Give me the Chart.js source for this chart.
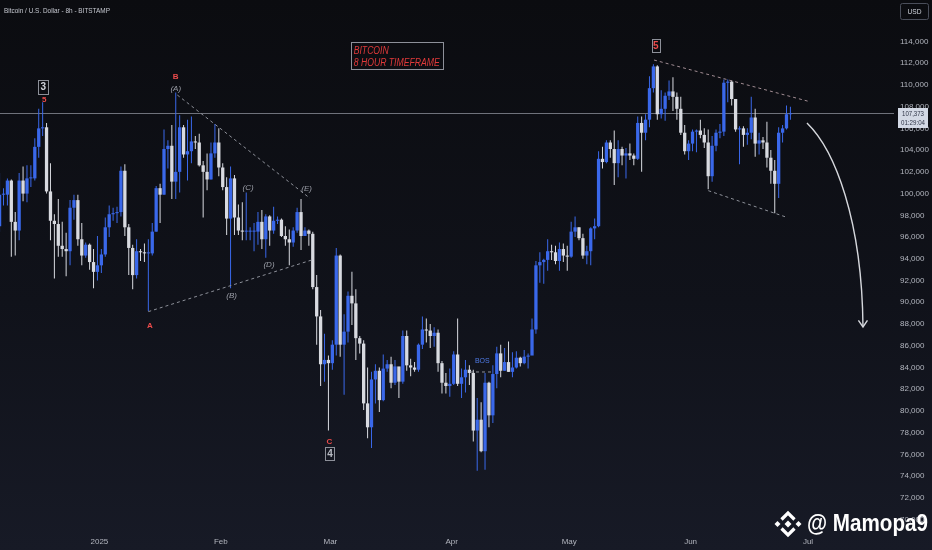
<!DOCTYPE html>
<html>
<head>
<meta charset="utf-8">
<script src="https://cdn.jsdelivr.net/npm/chart.js@4.4.1/dist/chart.umd.min.js"></script>
<style>
html, body { margin: 0; padding: 0; background: #0c0d12; overflow: hidden; }
canvas { display: block; }
</style>
</head>
<body>
<canvas id="btc" width="932" height="550"></canvas>
<script>
// BTC/USD daily candles, Dec 6 2024 .. Jun 26 2025, prices in thousands of USD
const startOffset = -26; // Dec 6 2024, in days from Jan 1 2025
const firstOpen = 97.0;

const closes = [
  // Dec
  99.9, 99.9, 101.2, 97.4, 96.6, 101.2, 100.0, 101.4, 101.4, 104.3, 106.0, 106.1, 100.2, 97.5, 97.2, 95.2, 94.9, 94.7, 98.7, 99.4, 95.8, 94.3, 95.3, 93.7, 92.8, 93.4,
  // Jan
  94.4, 96.9, 98.1, 98.2, 98.3, 102.1, 96.9, 95.0, 92.5, 94.7, 94.6, 94.5, 94.5, 96.5, 100.5, 99.9, 104.1, 104.4, 101.1, 102.0, 106.1, 103.6, 103.9, 104.8, 104.7, 102.6, 102.0, 101.3, 103.7, 104.7, 102.4,
  // Feb
  100.6, 97.7, 101.4, 97.8, 96.6, 96.5, 96.5, 96.5, 96.5, 97.4, 95.8, 97.9, 96.6, 97.5, 97.6, 96.1, 95.8, 95.5, 96.6, 98.3, 96.1, 96.6, 96.3, 91.4, 88.7, 84.3, 84.7, 84.4,
  // Mar
  86.1, 94.3, 86.1, 87.3, 90.6, 89.9, 86.7, 86.2, 80.7, 78.5, 82.9, 83.7, 81.0, 83.9, 84.3, 82.6, 84.1, 82.7, 86.9, 84.2, 84.0, 83.8, 86.1, 87.5, 87.4, 86.9, 87.2, 84.4, 82.6, 82.3, 82.5,
  // Apr
  85.2, 82.5, 83.1, 83.8, 83.5, 78.2, 79.2, 76.3, 82.6, 79.6, 83.4, 85.3, 83.7, 84.5, 83.6, 84.0, 84.9, 84.4, 85.0, 85.1, 87.5, 93.4, 93.7, 93.9, 94.7, 94.6, 93.8, 94.9, 94.3, 94.2,
  // May
  96.5, 96.9, 95.9, 94.3, 94.7, 96.8, 97.0, 103.2, 102.9, 104.7, 104.1, 102.8, 104.1, 103.5, 103.7, 103.5, 103.2, 106.5, 105.6, 106.8, 109.7, 111.7, 107.3, 107.8, 109.0, 109.4, 108.9, 107.8, 105.6, 103.9, 104.6,
  // Jun
  105.7, 105.8, 105.4, 104.7, 101.6, 104.4, 105.6, 105.7, 110.2, 110.3, 108.7, 105.9, 106.0, 105.4, 105.6, 107.0, 104.6, 104.9, 104.7, 103.3, 102.1, 100.9, 105.6, 106.0, 107.3, 107.373
];

const highs = [
  101.9, 100.5, 101.4, 101.3, 98.3, 101.9, 102.5, 102.6, 102.6, 105.1, 107.8, 108.4, 106.5, 102.8, 98.1, 99.5, 97.4, 96.4, 99.4, 99.9, 99.9, 97.3, 95.5, 95.4, 94.9, 96.1,
  94.9, 97.8, 98.9, 98.7, 98.8, 102.5, 102.7, 97.2, 95.3, 95.8, 94.9, 95.4, 95.8, 97.3, 100.7, 100.9, 105.9, 104.9, 106.3, 109.3, 107.2, 106.3, 106.8, 107.1, 105.3, 105.5, 103.0, 103.7, 104.7, 106.4, 106.0,
  102.8, 101.5, 102.5, 101.7, 99.0, 99.2, 100.1, 96.9, 97.3, 98.3, 98.5, 98.1, 98.0, 98.8, 97.9, 97.7, 97.0, 96.7, 96.9, 98.7, 99.5, 96.9, 96.7, 96.5, 92.5, 89.3, 87.1, 85.1,
  86.5, 95.0, 94.4, 88.9, 91.0, 92.8, 91.2, 86.9, 86.5, 84.0, 83.6, 84.3, 84.0, 85.2, 84.7, 85.0, 84.7, 84.0, 87.4, 87.4, 84.8, 84.5, 86.2, 88.7, 88.5, 88.0, 87.7, 87.5, 84.6, 83.5, 83.9,
  85.5, 88.5, 83.9, 84.7, 84.2, 83.8, 81.2, 80.8, 83.5, 82.7, 84.2, 85.9, 86.1, 85.8, 86.4, 85.4, 85.5, 85.0, 85.6, 85.3, 88.5, 93.8, 94.6, 94.0, 95.8, 95.3, 95.2, 95.5, 95.4, 95.2,
  97.4, 97.9, 96.9, 96.3, 95.2, 96.9, 97.7, 103.9, 104.3, 104.9, 104.9, 105.8, 104.9, 104.3, 104.2, 104.6, 103.7, 107.1, 107.1, 107.3, 110.8, 111.9, 111.8, 109.5, 109.3, 110.4, 110.7, 109.3, 108.9, 106.3, 104.9,
  105.9, 105.9, 106.8, 106.0, 105.9, 105.3, 105.9, 106.4, 110.5, 110.5, 110.4, 108.7, 106.2, 106.2, 106.0, 108.9, 107.8, 105.6, 105.2, 106.6, 104.0, 103.1, 106.1, 106.3, 108.1, 108.0
];

const lows = [
  96.5, 98.9, 98.9, 94.2, 94.3, 95.7, 99.3, 99.2, 100.6, 101.2, 103.3, 105.3, 100.0, 95.7, 92.2, 94.2, 94.2, 92.4, 93.4, 97.6, 95.2, 93.4, 94.1, 93.0, 91.3, 92.0,
  92.7, 94.2, 96.0, 97.5, 97.3, 97.9, 96.1, 92.5, 91.2, 92.2, 93.8, 93.7, 89.2, 94.3, 96.5, 97.3, 99.9, 102.3, 99.5, 99.5, 100.1, 103.3, 101.2, 102.8, 104.1, 102.5, 97.8, 100.3, 101.3, 103.3, 101.6,
  100.3, 96.2, 91.3, 96.2, 96.2, 95.7, 95.7, 95.7, 94.7, 95.3, 94.9, 94.1, 95.2, 96.3, 97.2, 96.0, 95.2, 93.4, 95.1, 96.4, 94.8, 96.1, 95.2, 91.2, 86.1, 82.3, 82.7, 78.2,
  83.8, 85.1, 85.0, 81.5, 86.3, 87.9, 84.7, 85.3, 80.1, 77.5, 76.6, 80.7, 79.9, 80.9, 83.6, 82.1, 82.4, 81.2, 82.5, 83.7, 83.2, 83.6, 83.6, 85.7, 86.3, 85.8, 85.9, 83.6, 81.6, 81.6, 81.3,
  82.4, 82.3, 81.2, 81.7, 82.4, 77.2, 74.5, 76.2, 74.6, 78.5, 78.9, 82.1, 83.1, 83.7, 83.6, 83.1, 83.9, 84.1, 84.3, 83.9, 85.2, 87.1, 91.8, 91.7, 92.9, 93.9, 93.5, 92.9, 93.7, 92.9,
  94.1, 96.0, 95.7, 94.0, 93.5, 93.4, 95.8, 96.9, 102.3, 102.8, 103.3, 100.8, 101.5, 102.6, 101.4, 103.1, 102.6, 103.1, 102.0, 104.9, 106.1, 109.3, 106.8, 106.9, 106.7, 108.6, 107.6, 106.8, 105.4, 103.6, 103.1,
  103.9, 103.8, 105.1, 104.2, 100.4, 101.1, 103.9, 105.1, 105.3, 108.4, 108.1, 105.7, 102.7, 104.3, 104.5, 105.0, 103.4, 103.6, 104.1, 102.4, 100.9, 98.2, 99.6, 104.7, 105.9, 106.8
];

const monthTickDays = [0, 31, 59, 90, 120, 151, 181];
const monthTickLabels = ['2025', 'Feb', 'Mar', 'Apr', 'May', 'Jun', 'Jul'];
const priceTicks = [70, 72, 74, 76, 78, 80, 82, 84, 86, 88, 90, 92, 94, 96, 98, 100, 102, 104, 106, 108, 110, 112, 114];
const lastPrice = 107.373;
const countdown = '01:29:04';

const UP = '#3a68ea';
const DOWN = '#d8dae0';
const RED = '#ec4b4b';
const GREY = '#9a9da6';
const SANS = "'Liberation Sans', Arial, sans-serif";

const opens = closes.map((c, i) => i === 0 ? firstOpen : closes[i - 1]);
const xs = closes.map((c, i) => startOffset + i + 0.5);
const colors = closes.map((c, i) => c >= opens[i] ? UP : DOWN);

// wave markup, in (day, price) coordinates
const waveTags = [
  { t: '3', d: -14.33, v: 109.83, c: '#d1d4dc', box: [10, 14] },
  { t: '5', d: -14.07, v: 108.68, c: RED },
  { t: 'B', d: 19.49, v: 110.79, c: RED },
  { t: '(A)', d: 19.49, v: 109.69, c: GREY, it: true },
  { t: 'A', d: 12.92, v: 87.91, c: RED },
  { t: '(B)', d: 33.79, v: 90.67, c: GREY, it: true },
  { t: '(C)', d: 37.96, v: 100.58, c: GREY, it: true },
  { t: '(D)', d: 43.32, v: 93.5, c: GREY, it: true },
  { t: '(E)', d: 52.95, v: 100.49, c: GREY, it: true },
  { t: 'C', d: 58.72, v: 77.24, c: RED },
  { t: '4', d: 58.9, v: 76.11, c: '#b8bbc3', box: [9, 13] },
  { t: '5', d: 142.09, v: 113.58, c: RED, box: [8, 13] }
];
const dashLines = [
  { a: [12.49, 89.14], b: [54.23, 93.89], c: '#8d9099' },
  { a: [19.9, 109.07], b: [53.79, 99.57], c: '#8d9099' },
  { a: [141.66, 112.29], b: [181.51, 108.45], c: '#a08c92' },
  { a: [155.53, 100.27], b: [175.56, 97.82], c: '#8d9099' },
  { a: [94.66, 83.59], b: [100.79, 83.59], c: '#8d9099' }
];
const arrowPath = [[180.73, 106.5], [187.88, 104.01], [194.78, 97.57], [195.04, 87.73]];

const markup = {
  id: 'markup',
  beforeDraw(chart) {
    const ctx = chart.ctx;
    const g = ctx.createLinearGradient(0, 0, 0, chart.height);
    g.addColorStop(0, '#0b0c10');
    g.addColorStop(0.55, '#10121a');
    g.addColorStop(1, '#171a26');
    ctx.save();
    ctx.fillStyle = g;
    ctx.fillRect(0, 0, chart.width, chart.height);
    ctx.restore();
  },
  beforeDatasetsDraw(chart) {
    const { ctx, chartArea, scales } = chart;
    const y = Math.round(scales.y.getPixelForValue(lastPrice)) + 0.5;
    ctx.save();
    ctx.strokeStyle = '#6f727b';
    ctx.lineWidth = 1;
    ctx.beginPath();
    ctx.moveTo(chartArea.left, y);
    ctx.lineTo(chartArea.right, y);
    ctx.stroke();
    ctx.restore();
  },
  afterDraw(chart) {
    const { ctx, scales } = chart;
    const X = d => scales.x.getPixelForValue(d);
    const Y = v => scales.y.getPixelForValue(v);
    const fitText = (text, x, y, w, font, color, align) => {
      ctx.save();
      ctx.font = font;
      ctx.fillStyle = color;
      ctx.textBaseline = 'middle';
      ctx.textAlign = 'left';
      const m = ctx.measureText(text).width;
      const s = w / m;
      ctx.translate(align === 'center' ? x - w / 2 : x, y);
      ctx.scale(s, 1);
      ctx.fillText(text, 0, 0);
      ctx.restore();
    };
    ctx.save();

    // dashed trend lines
    ctx.lineWidth = 1;
    ctx.setLineDash([3, 3]);
    dashLines.forEach(l => {
      ctx.strokeStyle = l.c;
      ctx.beginPath();
      ctx.moveTo(X(l.a[0]), Y(l.a[1]));
      ctx.lineTo(X(l.b[0]), Y(l.b[1]));
      ctx.stroke();
    });
    ctx.setLineDash([]);

    // wave labels
    waveTags.forEach(w => {
      const x = X(w.d), y = Y(w.v);
      if (w.box) {
        ctx.strokeStyle = '#8d9099';
        ctx.lineWidth = 1;
        ctx.strokeRect(Math.round(x - w.box[0] / 2) + 0.5, Math.round(y - w.box[1] / 2) + 0.5, w.box[0], w.box[1]);
      }
      ctx.font = (w.it ? 'italic ' : 'bold ') + (w.box ? '10px ' : '8px ') + SANS;
      ctx.fillStyle = w.c;
      ctx.textAlign = 'center';
      ctx.textBaseline = 'middle';
      ctx.fillText(w.t, x, y + 0.5);
    });

    // BOS tag
    ctx.font = '7px ' + SANS;
    ctx.fillStyle = '#4f7be6';
    ctx.textAlign = 'center';
    ctx.fillText('BOS', X(97.8), Y(84.6));

    // title box
    const bx0 = X(64.19), bx1 = X(87.69), by0 = Y(113.92), by1 = Y(111.44);
    ctx.strokeStyle = '#8d9099';
    ctx.lineWidth = 1;
    ctx.strokeRect(Math.round(bx0) + 0.5, Math.round(by0) + 0.5, Math.round(bx1 - bx0), Math.round(by1 - by0));
    fitText('BITCOIN', bx0 + 3, by0 + 8.5, 35, 'italic 10px ' + SANS, '#e03a3a');
    fitText('8 HOUR TIMEFRAME', bx0 + 3, by0 + 20.5, 86, 'italic 10px ' + SANS, '#e03a3a');

    // curved arrow
    const p = arrowPath.map(q => [X(q[0]), Y(q[1])]);
    ctx.strokeStyle = '#d6d8dd';
    ctx.lineWidth = 1.4;
    ctx.beginPath();
    ctx.moveTo(p[0][0], p[0][1]);
    ctx.bezierCurveTo(p[1][0], p[1][1], p[2][0], p[2][1], p[3][0], p[3][1]);
    ctx.stroke();
    const ang = Math.atan2(p[3][1] - p[2][1], p[3][0] - p[2][0]);
    ctx.beginPath();
    ctx.moveTo(p[3][0] - 8 * Math.cos(ang - 0.6), p[3][1] - 8 * Math.sin(ang - 0.6));
    ctx.lineTo(p[3][0], p[3][1]);
    ctx.lineTo(p[3][0] - 8 * Math.cos(ang + 0.6), p[3][1] - 8 * Math.sin(ang + 0.6));
    ctx.stroke();

    // header
    fitText('Bitcoin / U.S. Dollar - 8h - BITSTAMP', 4, 11, 106, '8px ' + SANS, '#c5c8d0');

    // USD box
    ctx.strokeStyle = '#4a4e5a';
    ctx.lineWidth = 1;
    ctx.beginPath();
    ctx.roundRect(900.5, 3.5, 28, 16, 2);
    ctx.stroke();
    fitText('USD', 914.5, 11.5, 14, '8px ' + SANS, '#d1d4dc', 'center');

    // last price label
    const ly = Y(lastPrice);
    ctx.fillStyle = '#d3d9e5';
    ctx.fillRect(898, Math.round(ly - 5.5), 30, 20);
    fitText('107,373', 913, ly, 22, '8px ' + SANS, '#2e3446', 'center');
    fitText(countdown, 913, ly + 9.5, 24, '8px ' + SANS, '#2e3446', 'center');

    // watermark
    ctx.fillStyle = '#ffffff';
    const cx = 788, cy = 524;
    const dia = (x, y, r) => {
      ctx.beginPath();
      ctx.moveTo(x, y - r); ctx.lineTo(x + r, y); ctx.lineTo(x, y + r); ctx.lineTo(x - r, y);
      ctx.closePath(); ctx.fill();
    };
    dia(cx, cy, 3.5);
    dia(cx - 10.5, cy, 3);
    dia(cx + 10.5, cy, 3);
    ctx.strokeStyle = '#ffffff';
    ctx.lineWidth = 3.2;
    ctx.lineJoin = 'miter';
    ctx.beginPath();
    ctx.moveTo(cx - 6.5, cy - 4.5); ctx.lineTo(cx, cy - 11); ctx.lineTo(cx + 6.5, cy - 4.5);
    ctx.moveTo(cx - 6.5, cy + 4.5); ctx.lineTo(cx, cy + 11); ctx.lineTo(cx + 6.5, cy + 4.5);
    ctx.stroke();
    fitText('@ Mamopa9', 807, 524, 121, 'bold 24px ' + SANS, '#ffffff');

    ctx.restore();
  }
};

const ctx = document.getElementById('btc').getContext('2d');
new Chart(ctx, {
  type: 'bar',
  data: {
    datasets: [
      {
        label: 'wick',
        data: closes.map((c, i) => ({ x: xs[i], y: [lows[i], highs[i]] })),
        backgroundColor: colors,
        barThickness: 1,
        grouped: false,
        inflateAmount: 0,
        borderWidth: 0,
        order: 2
      },
      {
        label: 'body',
        data: closes.map((c, i) => ({ x: xs[i], y: [opens[i], c] })),
        backgroundColor: colors,
        barThickness: 3.3,
        minBarLength: 1,
        grouped: false,
        inflateAmount: 0,
        borderWidth: 0,
        order: 1
      }
    ]
  },
  options: {
    responsive: false,
    animation: false,
    layout: { padding: 0 },
    plugins: { legend: { display: false }, tooltip: { enabled: false } },
    scales: {
      x: {
        type: 'linear',
        offset: false,
        min: -25.39,
        max: 202.96,
        grid: { display: false, drawTicks: false, offset: false },
        border: { display: false },
        ticks: {
          autoSkip: false,
          maxRotation: 0,
          padding: 6,
          color: '#b2b5be',
          font: { family: SANS, size: 8 },
          callback: v => monthTickLabels[monthTickDays.indexOf(v)]
        },
        afterBuildTicks: s => { s.ticks = monthTickDays.map(v => ({ value: v })); },
        afterFit: s => { s.height = 19; s.paddingLeft = 0; s.paddingRight = 0; }
      },
      y: {
        position: 'right',
        min: 68.96,
        max: 117.81,
        grid: { display: false, drawTicks: false },
        border: { display: false },
        ticks: {
          autoSkip: false,
          padding: 6,
          color: '#b2b5be',
          font: { family: SANS, size: 8 },
          callback: v => (v * 1000).toLocaleString('en-US')
        },
        afterBuildTicks: s => { s.ticks = priceTicks.map(v => ({ value: v })); },
        afterFit: s => { s.width = 38; s.paddingTop = 0; s.paddingBottom = 0; }
      }
    }
  },
  plugins: [markup]
});
</script>
</body>
</html>
